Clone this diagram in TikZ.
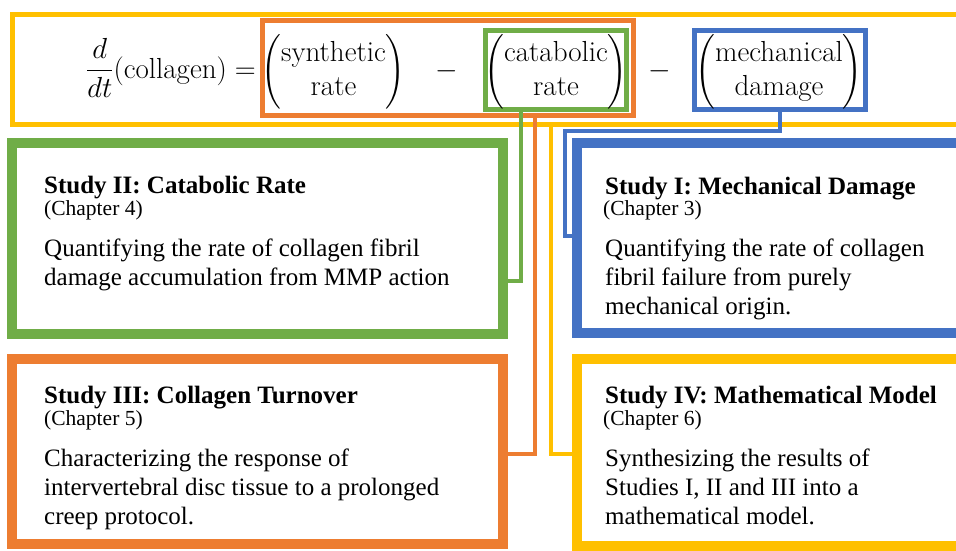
\RequirePackage{fix-cm}
\documentclass[tikz,border=0pt]{standalone}
\usepackage{amsmath}
\usepackage{fontspec}
\newfontfamily\timesfont{Liberation Serif}
\usetikzlibrary{fit}
\definecolor{cyellow}{HTML}{FFC000}
\definecolor{corange}{HTML}{ED7D31}
\definecolor{cgreen}{HTML}{70AD47}
\definecolor{cblue}{HTML}{4472C4}
\tikzset{
  frame/.style={draw, inner sep=0pt, outer sep=0pt},
  topframe/.style={frame, line width=5pt},
  studyframe/.style={frame, line width=10pt},
  conn/.style={line width=4pt},
  eq/.style={inner sep=0pt, anchor=base, font=\fontsize{29}{34}\selectfont},
  ttl/.style={inner sep=0pt, anchor=base west, font=\timesfont\bfseries\fontsize{25}{30}\selectfont},
  chap/.style={inner sep=0pt, anchor=base west, font=\timesfont\fontsize{21.5}{26}\selectfont},
  body/.style={inner sep=0pt, anchor=base west, font=\timesfont\fontsize{25}{30}\selectfont},
}
\begin{document}
\begin{tikzpicture}[x=1pt,y=-1pt]
\useasboundingbox (0,0) rectangle (956,550);
\fill[white] (0,0) rectangle (956,550);
\clip (0,0) rectangle (956,550);

% top equation frames
\node[topframe, cyellow, fit={(12.5,14) (980,124)}] (topbox) {};
\node[topframe, corange, fit={(262.5,20.5) (633.5,115)}] (synbox) {};
\node[topframe, cgreen, fit={(485.5,30.5) (626.5,109)}] (catbox) {};
\node[topframe, cblue, fit={(694.5,30.5) (865.5,109)}] (mechbox) {};

% equation
\node[eq, anchor=base east] (lhs) at (256,78) {$\dfrac{d}{dt}(\mbox{collagen}) =$};
\node[eq] (syn) at (333.5,79) {$\bigg(\begin{array}{@{}c@{}}\mbox{synthetic}\\\mbox{rate}\end{array}\bigg)$};
\node[eq] (minus1) at (447,78) {$-$};
\node[eq] (cat) at (556,79) {$\bigg(\begin{array}{@{}c@{}}\mbox{catabolic}\\\mbox{rate}\end{array}\bigg)$};
\node[eq] (minus2) at (660,78) {$-$};
\node[eq] (mech) at (779,79) {$\bigg(\begin{array}{@{}c@{}}\mbox{mechanical}\\\mbox{damage}\end{array}\bigg)$};

% study frames
\node[studyframe, cgreen, fit={(12,143) (503,333.5)}] (s2) {};
\node[studyframe, corange, fit={(12,359) (503,544)}] (s3) {};
\node[studyframe, cblue, fit={(577,143) (980,333)}] (s1) {};
\node[studyframe, cyellow, fit={(577,359) (980,546)}] (s4) {};

% connectors
\coordinate (g1) at (520.5,281);
\coordinate (o1) at (534.5,454);
\coordinate (y1) at (550.5,454);
\coordinate (b1) at (565,131);
\coordinate (b2) at (565,236);
\draw[conn, cgreen] (catbox.south -| g1) -- (g1) -- (s2.east |- g1);
\draw[conn, corange] (synbox.south -| o1) -- (o1) -- (s3.east |- o1);
\draw[conn, cyellow] (topbox.south -| y1) -- (y1) -- (s4.west |- y1);
\draw[conn, cblue] (mechbox.south) -- (mechbox.south |- b1) -- (b1) -- (b2) -- (s1.west |- b2);

% Study II
\node[ttl] (s2t) at (44,193) {Study II: Catabolic Rate};
\node[chap] (s2c) at (44,215) {(Chapter 4)};
\node[body] (s2a) at (44,256) {Quantifying the rate of collagen fibril};
\node[body] (s2b) at (44,285) {damage accumulation from MMP action};

% Study III
\node[ttl] (s3t) at (44,403) {Study III: Collagen Turnover};
\node[chap] (s3c) at (44,425) {(Chapter 5)};
\node[body] (s3a) at (44,466) {Characterizing the response of};
\node[body] (s3b) at (44,495) {intervertebral disc tissue to a prolonged};
\node[body] (s3d) at (44,524) {creep protocol.};

% Study I
\node[ttl] (s1t) at (605,194) {Study I: Mechanical Damage};
\node[chap] (s1c) at (603,215) {(Chapter 3)};
\node[body] (s1a) at (605,256) {Quantifying the rate of collagen};
\node[body] (s1b) at (605,285) {fibril failure from purely};
\node[body] (s1d) at (605,314) {mechanical origin.};

% Study IV
\node[ttl] (s4t) at (605,403) {Study IV: Mathematical Model};
\node[chap] (s4c) at (603,425) {(Chapter 6)};
\node[body] (s4a) at (605,466) {Synthesizing the results of};
\node[body] (s4b) at (605,495) {Studies I, II and III into a};
\node[body] (s4d) at (605,524) {mathematical model.};
\end{tikzpicture}
\end{document}
